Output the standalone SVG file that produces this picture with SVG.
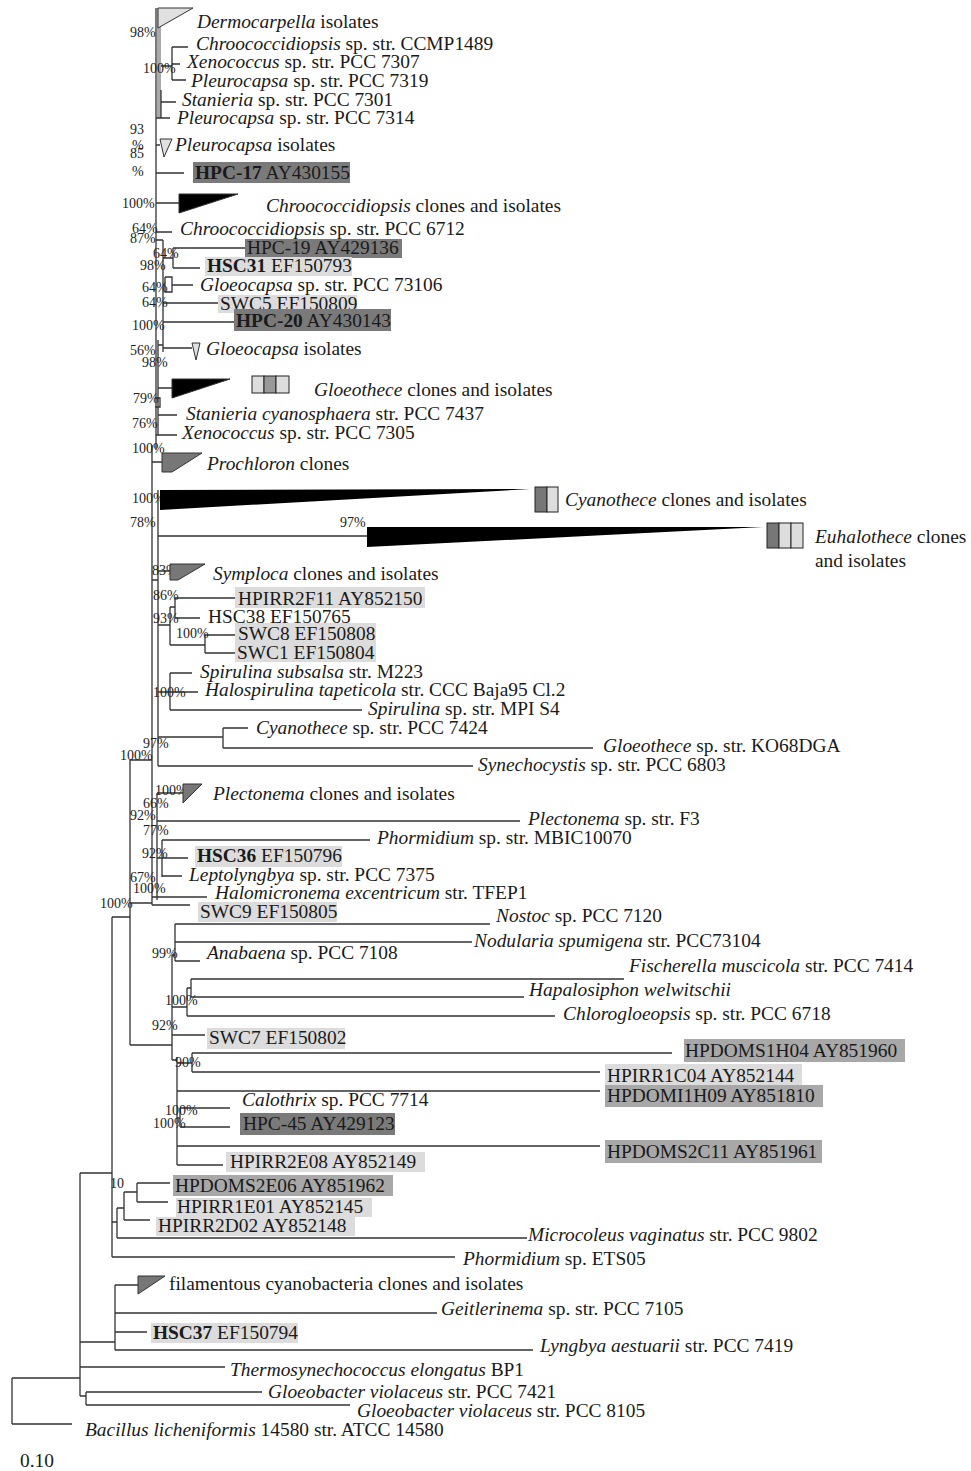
<svg xmlns="http://www.w3.org/2000/svg" width="971" height="1471" viewBox="0 0 971 1471">
<style>
.t{font-family:"Liberation Serif","Times New Roman",serif;font-size:19.4px;fill:#1a1a1a}
.bs{font-family:"Liberation Serif","Times New Roman",serif;font-size:14px;fill:#222}
.i{font-style:italic}
.bd{font-weight:bold}
.e{stroke:#333;stroke-width:1.3;fill:none}
.dk{fill:#7a7a7a}
.md{fill:#a8a8a8}
.lt{fill:#dcdcdc}
.tri{stroke:#333;stroke-width:1}
.blk{fill:#000}
.gry{fill:#777}
.pal{fill:#e0e0e0}
</style>
<rect width="971" height="1471" fill="#fff"/>
<g id="connectors">
<rect x="157" y="8" width="4" height="110" fill="#aaa"/>
<path class="e" d="M156 8 V450 M152 445 V905
M161 66 H172 M172 47 V80 M172 47 H188 M172 64 H180 M172 80 H186
M161 90 V118 M161 102 H176 M156 118 H170
M156 145 H160 M156 173 H184 M156 203 H179 M156 232 H172
M156 240 H163 M163 240 V352 M163 258 H173 M173 248 V268 M173 248 H247 M173 268 H200
M165 277 H172 V292 H165 V277 M163 285 H165 M172 285 H193
M163 303 H218 M163 322 H235 M163 348 H192
M158 340 V435 M158 345 H163 M158 388 H172
M155 398 H160 V407 H155
M158 415 H177 M156 435 H177
M152 462 H162
M158 490 V766 M152 580 H158
M158 536 H367 M158 571 H170
M158 625 H170 M170 607 V645 M170 607 H175 M175 598 V618 M175 598 H235 M175 618 H200 M170 645 H205 M205 635 V653 M205 635 H235 M205 653 H235
M158 692 H170 M170 673 V710 M170 673 H192 M170 692 H198 M170 710 H362
M158 737 H223 M223 728 V748 M223 728 H248 M223 748 H593
M158 766 H473
M130 760 H152 M130 760 V1045
M157 793 H183 M157 793 V900 M157 821 H520
M157 858 H162 M162 840 V877 M162 840 H370 M162 858 H188 M162 876 H182
M152 897 H207 M130 903 H152 M152 905 H190
M112 917 H130 M112 917 V1257
M130 1045 H172
M172 955 H175 M175 924 V961 M175 924 H490 M175 942 H472 M175 961 H200
M172 955 V1060
M172 1007 H187 M187 988 V1016 M187 988 H191 M191 979 V997 M191 979 H624 M191 997 H524 M187 1016 H555
M172 1035 H205
M172 1060 H177 M177 1057 V1165
M177 1063 H192 M192 1053 V1072 M192 1053 H672 M192 1072 H600
M177 1091 H600
M177 1118 H180 M180 1108 V1127 M180 1108 H230 M180 1127 H230
M177 1146 H600 M177 1165 H223
M80 1173 H112
M124 1192 H137 M137 1183 V1202 M137 1183 H170 M137 1202 H168 M124 1192 V1220 M124 1220 H150 M117 1208 H124 M117 1208 V1238 M117 1238 H527 M112 1222 H117
M112 1257 H455
M80 1173 V1396
M80 1342 H115 M115 1285 V1350 M115 1285 H138 M115 1313 H437 M115 1332 H147 M115 1350 H533
M80 1367 H225
M80 1396 H86 M86 1392 V1405 M86 1392 H262 M86 1405 H350
M12 1378 H80 M12 1378 V1424 M12 1424 H72"/>
</g>
<g id="bootstrap">
<text class="bs" x="130" y="37">98%</text>
<text class="bs" x="143" y="73">100%</text>
<text class="bs" x="130" y="134">93</text>
<text class="bs" x="132" y="150">%</text>
<text class="bs" x="130" y="158">85</text>
<text class="bs" x="132" y="176">%</text>
<text class="bs" x="122" y="208">100%</text>
<text class="bs" x="132" y="233">64%</text>
<text class="bs" x="130" y="243">87%</text>
<text class="bs" x="153" y="258">64%</text>
<text class="bs" x="140" y="270">98%</text>
<text class="bs" x="142" y="292">64%</text>
<text class="bs" x="142" y="307">64%</text>
<text class="bs" x="132" y="330">100%</text>
<text class="bs" x="130" y="355">56%</text>
<text class="bs" x="142" y="367">98%</text>
<text class="bs" x="133" y="403">79%</text>
<text class="bs" x="132" y="428">76%</text>
<text class="bs" x="132" y="453">100%</text>
<text class="bs" x="132" y="503">100%</text>
<text class="bs" x="130" y="527">78%</text>
<text class="bs" x="340" y="527">97%</text>
<text class="bs" x="152" y="575">83%</text>
<text class="bs" x="153" y="600">86%</text>
<text class="bs" x="153" y="623">93%</text>
<text class="bs" x="176" y="638">100%</text>
<text class="bs" x="153" y="697">100%</text>
<text class="bs" x="143" y="748">97%</text>
<text class="bs" x="120" y="760">100%</text>
<text class="bs" x="155" y="795">100%</text>
<text class="bs" x="143" y="808">66%</text>
<text class="bs" x="130" y="820">92%</text>
<text class="bs" x="143" y="835">77%</text>
<text class="bs" x="142" y="858">92%</text>
<text class="bs" x="130" y="882">67%</text>
<text class="bs" x="133" y="893">100%</text>
<text class="bs" x="100" y="908">100%</text>
<text class="bs" x="152" y="958">99%</text>
<text class="bs" x="165" y="1005">100%</text>
<text class="bs" x="152" y="1030">92%</text>
<text class="bs" x="175" y="1067">90%</text>
<text class="bs" x="165" y="1115">100%</text>
<text class="bs" x="153" y="1128">100%</text>
<text class="bs" x="110" y="1188">10</text>
</g>
<g id="n-dermocarpella"><polygon class="tri pal" points="158,8 193,8 158,28"/><text class="t" x="197" y="28"><tspan class="i">Dermocarpella</tspan> isolates</text></g>
<g id="n-ccmp1489"><text class="t" x="196" y="50"><tspan class="i">Chroococcidiopsis</tspan> sp. str. CCMP1489</text></g>
<g id="n-xeno7307"><text class="t" x="187" y="68"><tspan class="i">Xenococcus</tspan> sp. str. PCC 7307</text></g>
<g id="n-pleuro7319"><text class="t" x="191" y="87"><tspan class="i">Pleurocapsa</tspan> sp. str. PCC 7319</text></g>
<g id="n-stan7301"><text class="t" x="182" y="106"><tspan class="i">Stanieria</tspan> sp. str. PCC 7301</text></g>
<g id="n-pleuro7314"><text class="t" x="177" y="124"><tspan class="i">Pleurocapsa</tspan> sp. str. PCC 7314</text></g>
<g id="n-pleuroiso"><polygon class="tri pal" points="160,139 172,139 164,157"/><text class="t" x="175" y="151"><tspan class="i">Pleurocapsa</tspan> isolates</text></g>
<g id="n-hpc17"><rect class="dk" x="193" y="162" width="157" height="21"/><text class="t" x="195" y="179"><tspan class="bd">HPC-17</tspan> AY430155</text></g>
<g id="n-chrooclones"><polygon class="tri blk" points="179,194 238,194 179,213"/><text class="t" x="266" y="212"><tspan class="i">Chroococcidiopsis</tspan> clones and isolates</text></g>
<g id="n-chroo6712"><text class="t" x="180" y="235"><tspan class="i">Chroococcidiopsis</tspan> sp. str. PCC 6712</text></g>
<g id="n-hpc19"><rect class="dk" x="245" y="239" width="157" height="19"/><text class="t" x="247" y="254">HPC-19 AY429136</text></g>
<g id="n-hsc31"><rect class="lt" x="205" y="257" width="147" height="19"/><text class="t" x="207" y="272"><tspan class="bd">HSC31</tspan> EF150793</text></g>
<g id="n-gloeo73106"><text class="t" x="200" y="291"><tspan class="i">Gloeocapsa</tspan> sp. str. PCC 73106</text></g>
<g id="n-swc5"><rect class="lt" x="218" y="295" width="139" height="18"/><text class="t" x="220" y="310">SWC5 EF150809</text></g>
<g id="n-hpc20"><rect class="dk" x="234" y="309" width="157" height="22"/><text class="t" x="236" y="327"><tspan class="bd">HPC-20</tspan> AY430143</text></g>
<g id="n-gloeoiso"><polygon class="tri pal" points="192,343 200,343 196,360"/><text class="t" x="206" y="355"><tspan class="i">Gloeocapsa</tspan> isolates</text></g>
<g id="n-gloeothece"><polygon class="tri blk" points="172,379 230,379 172,398"/>
<rect x="252" y="376" width="12" height="17" fill="#ddd" stroke="#222"/><rect x="264" y="376" width="12" height="17" fill="#999" stroke="#222"/><rect x="276" y="376" width="13" height="17" fill="#ddd" stroke="#222"/>
<text class="t" x="314" y="396"><tspan class="i">Gloeothece</tspan> clones and isolates</text></g>
<g id="n-stan7437"><text class="t" x="186" y="420"><tspan class="i">Stanieria cyanosphaera</tspan> str. PCC 7437</text></g>
<g id="n-xeno7305"><text class="t" x="182" y="439"><tspan class="i">Xenococcus</tspan> sp. str. PCC 7305</text></g>
<g id="n-prochloron"><polygon class="tri gry" points="162,453 202,453 172,472 162,472"/><text class="t" x="207" y="470"><tspan class="i">Prochloron</tspan> clones</text></g>
<g id="n-cyanothece"><polygon class="blk" points="160,490 530,489 160,510"/>
<rect x="535" y="487" width="12" height="25" fill="#777" stroke="#222"/><rect x="547" y="487" width="11" height="25" fill="#ddd" stroke="#222"/>
<text class="t" x="565" y="506"><tspan class="i">Cyanothece</tspan> clones and isolates</text></g>
<g id="n-euhalothece"><polygon class="blk" points="367,527 763,527 367,547"/>
<rect x="767" y="523" width="12" height="25" fill="#777" stroke="#222"/><rect x="779" y="523" width="12" height="25" fill="#ddd" stroke="#222"/><rect x="791" y="523" width="12" height="25" fill="#ddd" stroke="#222"/>
<text class="t" x="815" y="543"><tspan class="i">Euhalothece</tspan> clones</text><text class="t" x="815" y="567">and isolates</text></g>
<g id="n-symploca"><polygon class="tri gry" points="170,564 205,564 178,580 170,580"/><text class="t" x="213" y="580"><tspan class="i">Symploca</tspan> clones and isolates</text></g>
<g id="n-hpirr2f11"><rect class="lt" x="235" y="587" width="190" height="21"/><text class="t" x="238" y="605">HPIRR2F11 AY852150</text></g>
<g id="n-hsc38"><text class="t" x="208" y="623">HSC38 EF150765</text></g>
<g id="n-swc8"><rect class="lt" x="235" y="623" width="141" height="39"/><text class="t" x="238" y="640">SWC8 EF150808</text></g>
<g id="n-swc1"><text class="t" x="237" y="659">SWC1 EF150804</text></g>
<g id="n-spirsub"><text class="t" x="200" y="678"><tspan class="i">Spirulina subsalsa</tspan> str. M223</text></g>
<g id="n-halospir"><text class="t" x="205" y="696"><tspan class="i">Halospirulina tapeticola</tspan> str. CCC Baja95 Cl.2</text></g>
<g id="n-spirmpi"><text class="t" x="368" y="715"><tspan class="i">Spirulina</tspan> sp. str. MPI S4</text></g>
<g id="n-cyan7424"><text class="t" x="256" y="734"><tspan class="i">Cyanothece</tspan> sp. str. PCC 7424</text></g>
<g id="n-gloeoko"><text class="t" x="603" y="752"><tspan class="i">Gloeothece</tspan> sp. str. KO68DGA</text></g>
<g id="n-synecho"><text class="t" x="478" y="771"><tspan class="i">Synechocystis</tspan> sp. str. PCC 6803</text></g>
<g id="n-plectclones"><polygon class="tri gry" points="183,784 202,784 183,803"/><text class="t" x="213" y="800"><tspan class="i">Plectonema</tspan> clones and isolates</text></g>
<g id="n-plectf3"><text class="t" x="528" y="825"><tspan class="i">Plectonema</tspan> sp. str. F3</text></g>
<g id="n-phormmbic"><text class="t" x="377" y="844"><tspan class="i">Phormidium</tspan> sp. str. MBIC10070</text></g>
<g id="n-hsc36"><rect class="lt" x="195" y="846" width="147" height="21"/><text class="t" x="197" y="862"><tspan class="bd">HSC36</tspan> EF150796</text></g>
<g id="n-lepto"><text class="t" x="189" y="881"><tspan class="i">Leptolyngbya</tspan> sp. str. PCC 7375</text></g>
<g id="n-halomicro"><text class="t" x="215" y="899"><tspan class="i">Halomicronema excentricum</tspan> str. TFEP1</text></g>
<g id="n-swc9"><rect class="lt" x="198" y="902" width="139" height="20"/><text class="t" x="200" y="918">SWC9 EF150805</text></g>
<g id="n-nostoc"><text class="t" x="496" y="922"><tspan class="i">Nostoc</tspan> sp. PCC 7120</text></g>
<g id="n-nodularia"><text class="t" x="474" y="947"><tspan class="i">Nodularia spumigena</tspan> str. PCC73104</text></g>
<g id="n-anabaena"><text class="t" x="207" y="959"><tspan class="i">Anabaena</tspan> sp. PCC 7108</text></g>
<g id="n-fischerella"><text class="t" x="629" y="972"><tspan class="i">Fischerella muscicola</tspan> str. PCC 7414</text></g>
<g id="n-hapalo"><text class="t" x="529" y="996"><tspan class="i">Hapalosiphon welwitschii</tspan></text></g>
<g id="n-chloro"><text class="t" x="563" y="1020"><tspan class="i">Chlorogloeopsis</tspan> sp. str. PCC 6718</text></g>
<g id="n-swc7"><rect class="lt" x="207" y="1028" width="138" height="21"/><text class="t" x="209" y="1044">SWC7 EF150802</text></g>
<g id="n-hpdoms1h04"><rect class="md" x="684" y="1039" width="221" height="23"/><text class="t" x="685" y="1057">HPDOMS1H04 AY851960</text></g>
<g id="n-hpirr1c04"><rect class="lt" x="605" y="1064" width="197" height="21"/><text class="t" x="607" y="1082">HPIRR1C04 AY852144</text></g>
<g id="n-hpdomi1h09"><rect class="md" x="605" y="1085" width="218" height="22"/><text class="t" x="607" y="1102">HPDOMI1H09 AY851810</text></g>
<g id="n-calothrix"><text class="t" x="242" y="1106"><tspan class="i">Calothrix</tspan> sp. PCC 7714</text></g>
<g id="n-hpc45"><rect class="dk" x="240" y="1113" width="155" height="22"/><text class="t" x="243" y="1130">HPC-45 AY429123</text></g>
<g id="n-hpdoms2c11"><rect class="md" x="605" y="1140" width="217" height="23"/><text class="t" x="607" y="1158">HPDOMS2C11 AY851961</text></g>
<g id="n-hpirr2e08"><rect class="lt" x="226" y="1152" width="199" height="20"/><text class="t" x="230" y="1168">HPIRR2E08 AY852149</text></g>
<g id="n-hpdoms2e06"><rect class="md" x="173" y="1175" width="220" height="21"/><text class="t" x="175" y="1192">HPDOMS2E06 AY851962</text></g>
<g id="n-hpirr1e01"><rect class="lt" x="176" y="1198" width="196" height="19"/><text class="t" x="177" y="1213">HPIRR1E01 AY852145</text></g>
<g id="n-hpirr2d02"><rect class="lt" x="156" y="1217" width="199" height="19"/><text class="t" x="158" y="1232">HPIRR2D02 AY852148</text></g>
<g id="n-microcoleus"><text class="t" x="528" y="1241"><tspan class="i">Microcoleus vaginatus</tspan> str. PCC 9802</text></g>
<g id="n-phormets"><text class="t" x="463" y="1265"><tspan class="i">Phormidium</tspan> sp. ETS05</text></g>
<g id="n-filament"><polygon class="tri gry" points="138,1276 165,1276 138,1294"/><text class="t" x="169" y="1290">filamentous cyanobacteria clones and isolates</text></g>
<g id="n-geitler"><text class="t" x="441" y="1315"><tspan class="i">Geitlerinema</tspan> sp. str. PCC 7105</text></g>
<g id="n-hsc37"><rect class="lt" x="151" y="1323" width="147" height="20"/><text class="t" x="153" y="1339"><tspan class="bd">HSC37</tspan> EF150794</text></g>
<g id="n-lyngbya"><text class="t" x="540" y="1352"><tspan class="i">Lyngbya aestuarii</tspan> str. PCC 7419</text></g>
<g id="n-thermo"><text class="t" x="230" y="1376"><tspan class="i">Thermosynechococcus elongatus</tspan> BP1</text></g>
<g id="n-gloeob7421"><text class="t" x="268" y="1398"><tspan class="i">Gloeobacter violaceus</tspan> str. PCC 7421</text></g>
<g id="n-gloeob8105"><text class="t" x="357" y="1417"><tspan class="i">Gloeobacter violaceus</tspan> str. PCC 8105</text></g>
<g id="n-bacillus"><text class="t" x="85" y="1436"><tspan class="i">Bacillus licheniformis</tspan> 14580 str. ATCC 14580</text></g>
<g id="scale"><text class="t" x="20" y="1467">0.10</text></g>
</svg>
